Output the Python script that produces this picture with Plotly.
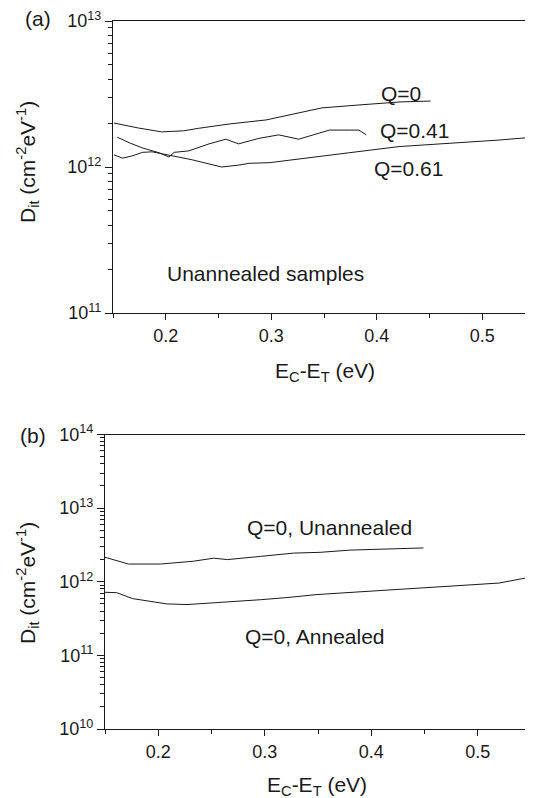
import plotly.graph_objects as go

# ---------------- data ----------------
# Panel (a): unannealed samples
a_q0_x = [0.151, 0.174, 0.196, 0.217, 0.231, 0.260, 0.295, 0.326, 0.348, 0.383, 0.422, 0.451]
a_q0_y = [2.00e12, 1.85e12, 1.74e12, 1.77e12, 1.84e12, 1.97e12, 2.10e12, 2.34e12, 2.54e12, 2.66e12, 2.79e12, 2.83e12]

a_q041_x = [0.154, 0.166, 0.178, 0.194, 0.203, 0.208, 0.222, 0.241, 0.257, 0.269, 0.288, 0.307,
            0.326, 0.345, 0.355, 0.374, 0.383, 0.390]
a_q041_y = [1.60e12, 1.46e12, 1.35e12, 1.25e12, 1.17e12, 1.26e12, 1.29e12, 1.44e12, 1.55e12, 1.44e12,
            1.57e12, 1.66e12, 1.55e12, 1.70e12, 1.79e12, 1.79e12, 1.79e12, 1.66e12]

a_q061_x = [0.151, 0.159, 0.168, 0.178, 0.187, 0.200, 0.212, 0.225, 0.238, 0.253, 0.269, 0.279,
            0.298, 0.326, 0.373, 0.421, 0.468, 0.516, 0.548]
a_q061_y = [1.21e12, 1.15e12, 1.19e12, 1.26e12, 1.27e12, 1.21e12, 1.17e12, 1.12e12, 1.06e12, 1.00e12,
            1.03e12, 1.06e12, 1.07e12, 1.13e12, 1.25e12, 1.38e12, 1.45e12, 1.53e12, 1.60e12]

# Panel (b): Q=0, unannealed vs annealed
b_un_x = [0.150, 0.172, 0.202, 0.221, 0.233, 0.252, 0.265, 0.296, 0.327, 0.352, 0.380, 0.449]
b_un_y = [2.15e12, 1.74e12, 1.74e12, 1.83e12, 1.90e12, 2.09e12, 2.00e12, 2.21e12, 2.45e12, 2.51e12, 2.69e12, 2.88e12]

b_an_x = [0.150, 0.161, 0.176, 0.192, 0.208, 0.227, 0.248, 0.270, 0.296, 0.321, 0.349, 0.396,
          0.443, 0.490, 0.520, 0.550]
b_an_y = [7.2e11, 7.1e11, 5.9e11, 5.4e11, 5.0e11, 4.9e11, 5.1e11, 5.3e11, 5.7e11, 6.1e11, 6.7e11,
          7.4e11, 8.2e11, 8.9e11, 9.6e11, 1.16e12]

x_ticks = [0.2, 0.3, 0.4, 0.5]
x_tick_labels = ["0.2", "0.3", "0.4", "0.5"]
a_y_ticks = [1e11, 1e12, 1e13]
a_y_labels = ["10<sup>11</sup>", "10<sup>12</sup>", "10<sup>13</sup>"]
b_y_ticks = [1e10, 1e11, 1e12, 1e13, 1e14]
b_y_labels = ["10<sup>10</sup>", "10<sup>11</sup>", "10<sup>12</sup>", "10<sup>13</sup>", "10<sup>14</sup>"]

# ---------------- layout helpers ----------------
# The page body keeps its default 8 px margin, so the figure is drawn 8 px in
# from the top-left corner of the 533x798 window.
OFF = 8
W, H = 533 - OFF, 798 - OFF
FONT = "Liberation Sans, Arial, Helvetica, sans-serif"
INK = "#1a1a1a"
TXT = 21


def fx(x):
    return (x - OFF) / W


def fy(y):
    return 1 - (y - OFF) / H


def minor_log(lo, hi):
    return [k * 10 ** e for e in range(lo, hi) for k in range(2, 10)]


line_style = dict(color=INK, width=1)

fig = go.Figure()
for xs, ys, name in [(a_q0_x, a_q0_y, "Q=0"), (a_q041_x, a_q041_y, "Q=0.41"), (a_q061_x, a_q061_y, "Q=0.61")]:
    fig.add_trace(go.Scatter(x=xs, y=ys, mode="lines", line=line_style, name=name,
                             xaxis="x", yaxis="y", showlegend=False))
for xs, ys, name in [(b_un_x, b_un_y, "Q=0, Unannealed"), (b_an_x, b_an_y, "Q=0, Annealed")]:
    fig.add_trace(go.Scatter(x=xs, y=ys, mode="lines", line=line_style, name=name,
                             xaxis="x2", yaxis="y2", showlegend=False))

axis_common = dict(showline=True, linecolor=INK, linewidth=1.3, showgrid=False, zeroline=False,
                   ticks="outside", tickcolor=INK, tickwidth=1.2, automargin=False,
                   tickfont=dict(family=FONT, size=18, color=INK))
xminor = dict(ticks="outside", ticklen=4, tickcolor=INK, showgrid=False)

fig.update_layout(
    width=W, height=H,
    margin=dict(l=0, r=0, t=0, b=0),
    paper_bgcolor="white", plot_bgcolor="white",
    font=dict(family=FONT, size=18, color=INK),
    xaxis=dict(axis_common, domain=[fx(113), 1.0], anchor="y", range=[0.15, 0.548],
               tickvals=x_ticks, ticktext=x_tick_labels, ticklen=6, mirror=True,
               minor=dict(xminor, tickvals=[0.15, 0.25, 0.35, 0.45])),
    yaxis=dict(axis_common, domain=[fy(313), fy(21)], anchor="x", type="log", range=[11, 13],
               tickvals=a_y_ticks, ticktext=a_y_labels, ticklen=7, mirror=False,
               minor=dict(xminor, tickvals=minor_log(11, 13))),
    xaxis2=dict(axis_common, domain=[fx(105), fx(531)], anchor="y2", range=[0.15, 0.55],
                tickvals=x_ticks, ticktext=x_tick_labels, ticklen=6, mirror=True,
                minor=dict(xminor, tickvals=[0.15, 0.25, 0.35, 0.45, 0.55])),
    yaxis2=dict(axis_common, domain=[fy(729), fy(434.5)], anchor="x2", type="log", range=[10, 14],
                tickvals=b_y_ticks, ticktext=b_y_labels, ticklen=7, mirror=True,
                minor=dict(xminor, tickvals=minor_log(10, 14))),
)

xtitle = "E<sub>C</sub>-E<sub>T</sub> (eV)"
ytitle = "D<sub>it</sub> (cm<sup>-2</sup>eV<sup>-1</sup>)"

labels = [
    ("(a)", 38, 19, 0),
    ("Q=0", 401, 93, 0),
    ("Q=0.41", 414, 131, 0),
    ("Q=0.61", 408, 169, 0),
    ("Unannealed samples", 265, 273, 0),
    ("(b)", 33, 435, 0),
    ("Q=0, Unannealed", 329, 527, 0),
    ("Q=0, Annealed", 315, 636, 0),
    (xtitle, 325, 372, 0),
    (xtitle, 317, 786, 0),
    (ytitle, 27, 162, -90),
    (ytitle, 27, 583, -90),
]
for text, x, y, ang in labels:
    fig.add_annotation(text=text, x=fx(x), y=fy(y), xref="paper", yref="paper", showarrow=False,
                       xanchor="center", yanchor="middle", textangle=ang,
                       font=dict(family=FONT, size=TXT, color=INK))

fig.write_html("out.html")
